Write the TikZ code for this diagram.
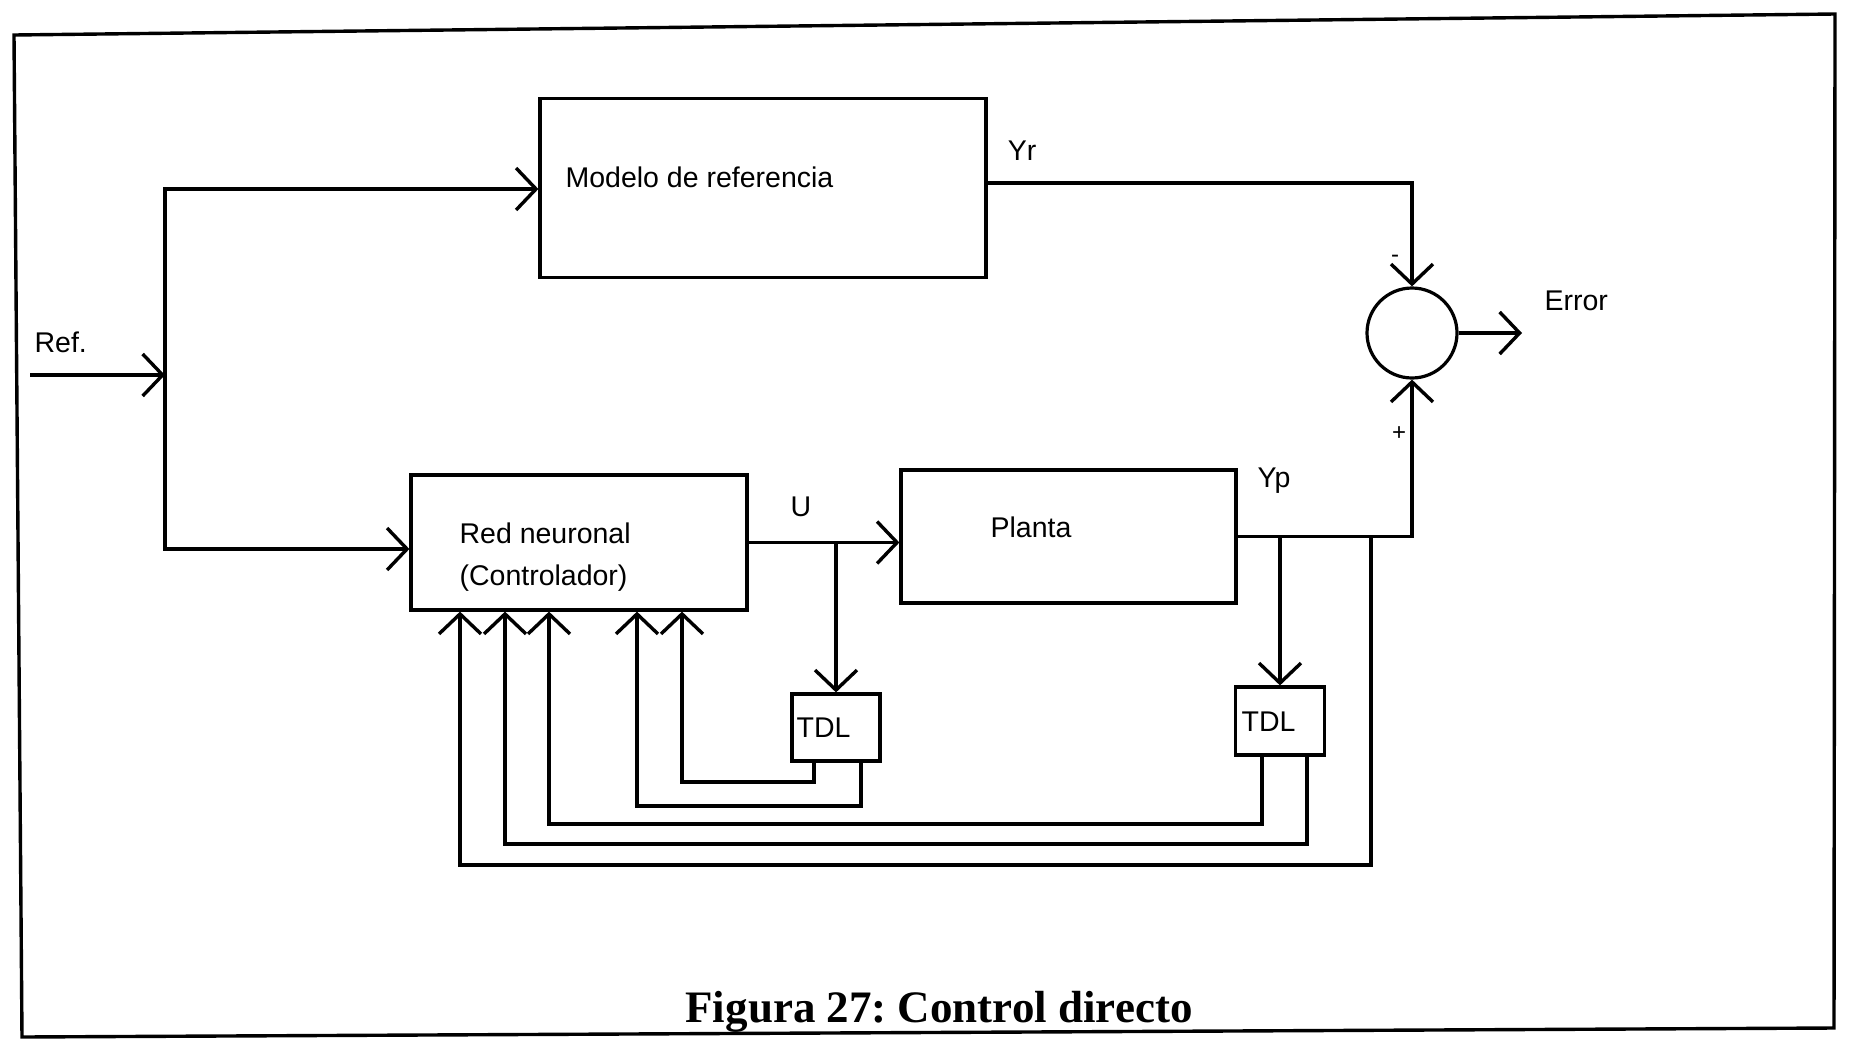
\documentclass[tikz,border=0pt]{standalone}
\usepackage{fontspec}
\setmainfont{Liberation Sans}
\newfontfamily\capfont{Liberation Serif}
\usetikzlibrary{arrows.meta}
\frenchspacing
\begin{document}
\begin{tikzpicture}[x=1pt,y=-1pt,line width=3.2pt,
  blk/.style={draw, rectangle, line width=3.2pt, inner sep=0pt},
  lbl/.style={font=\fontsize{28.5}{34}\selectfont, inner sep=0pt},
  sgn/.style={font=\fontsize{24}{26}\selectfont, inner sep=0pt},
  arr/.style={-{Straight Barb[length=20pt,width=42pt,line width=3.4pt]}}]
\useasboundingbox (0,0) rectangle (1850,1039);
% frame
\draw[line width=3.4pt] (14,35) -- (1835,14) -- (1834,1028) -- (22,1037) -- cycle;
% blocks
\node[blk, minimum width=446pt, minimum height=179pt] (modelo) at (763,188) {};
\node[blk, minimum width=336pt, minimum height=135pt] (red) at (579,542.5) {};
\node[blk, minimum width=335pt, minimum height=133pt] (planta) at (1068.5,536.5) {};
\node[blk, minimum width=88pt, minimum height=67pt] (tdl1) at (836,727.5) {};
\node[blk, minimum width=89pt, minimum height=68pt] (tdl2) at (1280,721) {};
\node[draw, circle, minimum size=90pt, inner sep=0pt] (sum) at (1412,333) {};
% texts
\node[lbl, anchor=west] (tmodelo) at (564,177) {Modelo de referencia};
\node[lbl, anchor=west] (tred1) at (458,533) {Red neuronal};
\node[lbl, anchor=west] (tred2) at (458,578) {(Controlador)};
\node[lbl, anchor=west] (tplanta) at (989,527) {Planta};
\node[lbl, anchor=west] (ttdl1) at (795,728) {TDL};
\node[lbl, anchor=west] (ttdl2) at (1240,722) {TDL};
\node[lbl, anchor=west] (tref) at (33,342) {Ref.};
\node[lbl] (tyr) at (1022,151) {Yr};
\node[lbl] (tu) at (801,507) {U};
\node[lbl] (typ) at (1274,481) {Yp};
\node[lbl, anchor=west] (terr) at (1543,301) {Error};
\node[sgn] (tminus) at (1395,259) {-};
\node[sgn] (tplus) at (1399,434) {+};
\node[font=\capfont\bfseries\fontsize{45}{54}\selectfont, anchor=base, inner sep=0pt] (cap) at (939,1022) {Figura 27: Control directo};
% coordinates
\coordinate (refin) at (30,375);
\coordinate (split) at (165,375);
\coordinate (stop) at (165,189);
\coordinate (sbot) at (165,549);
\coordinate (errend) at (1522,333);
\coordinate (fb) at (1371,536.5);
\coordinate (f1) at (460,865);
\coordinate (t2b) at (1307,0);
\coordinate (f2) at (505,844);
\coordinate (t2a) at (1262,0);
\coordinate (f3) at (549,824);
\coordinate (t1b) at (861,0);
\coordinate (f4) at (637,806);
\coordinate (t1a) at (814,0);
\coordinate (f5) at (682,782);
% connectors
\draw[arr] (refin) -- (split);
\draw[arr] (sbot) |- (modelo.west |- stop);
\draw[arr] (stop) |- (red.west |- sbot);
\draw[arr] ([yshift=5pt]modelo.east) -| (sum.north);
\draw[arr] (sum.east) -- (errend);
\draw[arr] (red.east) -- (planta.west |- red.east);
\draw[arr] (tdl1.north |- red.east) -- (tdl1.north);
\draw[arr] (planta.east) -| (sum.south);
\draw[arr] (tdl2.north |- planta.east) -- (tdl2.north);
\draw[arr] (fb) |- (f1) -- (red.south -| f1);
\draw[arr] (tdl2.south -| t2b) |- (f2) -- (red.south -| f2);
\draw[arr] (tdl2.south -| t2a) |- (f3) -- (red.south -| f3);
\draw[arr] (tdl1.south -| t1b) |- (f4) -- (red.south -| f4);
\draw[arr] (tdl1.south -| t1a) |- (f5) -- (red.south -| f5);
\end{tikzpicture}
\end{document}
